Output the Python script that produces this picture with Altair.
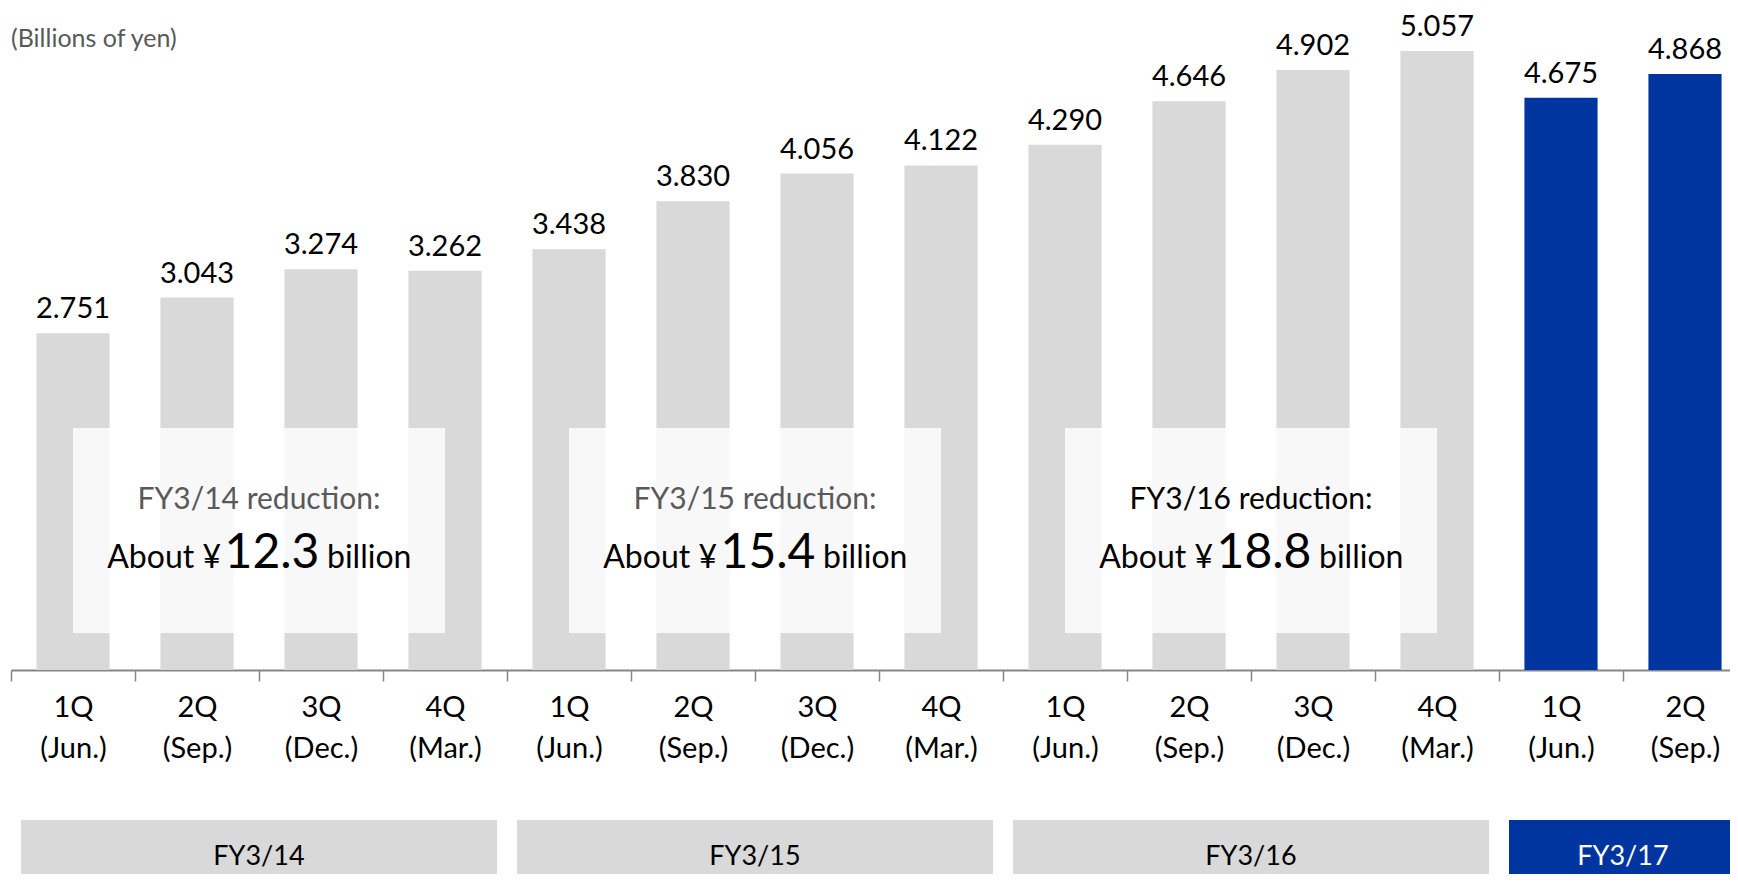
import altair as alt
import pandas as pd

# ---------------- data ----------------
fiscal_years = ["FY3/14"] * 4 + ["FY3/15"] * 4 + ["FY3/16"] * 4 + ["FY3/17"] * 2
quarters = ["1Q", "2Q", "3Q", "4Q"] * 3 + ["1Q", "2Q"]
months = ["(Jun.)", "(Sep.)", "(Dec.)", "(Mar.)"] * 3 + ["(Jun.)", "(Sep.)"]
values = [2.751, 3.043, 3.274, 3.262, 3.438, 3.830, 4.056, 4.122,
          4.290, 4.646, 4.902, 5.057, 4.675, 4.868]

fy_names = ["FY3/14", "FY3/15", "FY3/16", "FY3/17"]
fy_start = [0, 4, 8, 12]
fy_count = [4, 4, 4, 2]

red_fy = ["FY3/14", "FY3/15", "FY3/16"]
red_amount = ["12.3", "15.4", "18.8"]
red_start = [0, 4, 8]
red_count = [4, 4, 4]

unit_label = "(Billions of yen)"

# ---------------- styling ----------------
FONT = "Lato"
GRAY_BAR = "#d9d9d9"
BLUE = "#0035a0"
TEXT_GRAY = "#595959"
X_RANGE = [3, 1739]

keys = [f"{f}|{q}|{m}" for f, q, m in zip(fiscal_years, quarters, months)]
bars_df = pd.DataFrame({"key": keys, "fy": fiscal_years, "value": values})
fy_df = pd.DataFrame({"fy": fy_names, "start": fy_start, "count": fy_count})
red_df = pd.DataFrame({"fy": red_fy, "amount": red_amount,
                       "start": red_start, "count": red_count})
title_df = pd.DataFrame({"t": [unit_label]})

x_axis = alt.Axis(
    title=None, domainColor="#868686", domainWidth=2,
    tickColor="#868686", tickWidth=1.5, tickSize=11, tickBand="extent",
    labelExpr="[split(datum.value,'|')[1], split(datum.value,'|')[2]]",
    labelFont=FONT, labelFontSize=29, labelColor="#000000",
    labelLineHeight=41, labelPadding=12, labelAngle=0, labelBaseline="top",
)

band_scale = alt.Scale(domain=keys, range=X_RANGE, paddingInner=0, paddingOuter=0)
y_scale = alt.Scale(domain=[0, 5.408])

bar_color = alt.condition(alt.datum.fy == "FY3/17", alt.value(BLUE), alt.value(GRAY_BAR))

bars = alt.Chart(bars_df).mark_bar(width=alt.RelativeBandSize(0.59)).encode(
    x=alt.X("key:N", sort=keys, scale=band_scale, axis=x_axis),
    y=alt.Y("value:Q", scale=y_scale, axis=None),
    color=bar_color,
)

value_text = alt.Chart(bars_df).mark_text(
    baseline="alphabetic", dy=-15, font=FONT, fontSize=29, color="#000000"
).encode(
    x=alt.X("key:N", sort=keys, scale=band_scale, axis=None),
    y=alt.Y("value:Q", scale=y_scale, axis=None),
    text=alt.Text("value:Q", format=".3f"),
)

qx = lambda f: alt.X(f, type="quantitative",
                     scale=alt.Scale(domain=[0, 14], range=X_RANGE), axis=None)
qx2 = lambda f: alt.X2(f)

# reduction boxes
red_base = alt.Chart(red_df).transform_calculate(
    bx="datum.start + 0.5",
    bx2="datum.start + datum.count - 0.5",
    cx="datum.start + datum.count / 2",
    line1="datum.fy + ' reduction:'",
)

red_box = red_base.mark_rect(color="white", opacity=0.8).encode(
    x=qx("bx"), x2=qx2("bx2"), y=alt.value(420), y2=alt.value(625)
)
red_line1 = red_base.mark_text(
    font=FONT, fontSize=30, baseline="alphabetic", align="center"
).encode(
    x=qx("cx"), y=alt.value(501), text="line1:N",
    color=alt.condition(alt.datum.fy == "FY3/16", alt.value("#000000"), alt.value(TEXT_GRAY)),
)
red_about = red_base.mark_text(
    font=FONT, fontSize=32, baseline="alphabetic", align="right", dx=-38, color="#000000"
).encode(x=qx("cx"), y=alt.value(560), text=alt.value("About ¥"))
red_num = red_base.mark_text(
    font=FONT, fontSize=48, baseline="alphabetic", align="center", dx=13, color="#000000"
).encode(x=qx("cx"), y=alt.value(560), text="amount:N")
red_bill = red_base.mark_text(
    font=FONT, fontSize=32, baseline="alphabetic", align="left", dx=68, color="#000000"
).encode(x=qx("cx"), y=alt.value(560), text=alt.value("billion"))

# fiscal-year boxes
fy_base = alt.Chart(fy_df).transform_calculate(
    ex="datum.start + datum.count",
    cx="datum.start + datum.count / 2",
)
fy_box = fy_base.mark_rect(xOffset=10, x2Offset=-10).encode(
    x=qx("start"), x2=qx2("ex"), y=alt.value(812), y2=alt.value(880),
    color=alt.condition(alt.datum.fy == "FY3/17", alt.value(BLUE), alt.value(GRAY_BAR)),
)
fy_text = fy_base.mark_text(font=FONT, fontSize=27, baseline="middle").encode(
    x=qx("cx"), y=alt.value(849), text="fy:N",
    color=alt.condition(alt.datum.fy == "FY3/17", alt.value("#ffffff"), alt.value("#000000")),
)

title = alt.Chart(title_df).mark_text(
    font=FONT, fontSize=25, align="left", baseline="middle", color=TEXT_GRAY
).encode(x=alt.value(3), y=alt.value(31), text="t:N")

chart = alt.layer(
    bars, value_text, red_box, red_line1, red_about, red_num, red_bill,
    fy_box, fy_text, title
).resolve_scale(x="independent").properties(
    width=1722, height=662,
    autosize=alt.AutoSizeParams(type="none"),
    padding={"left": 0, "top": 0, "right": 0, "bottom": 204},
).configure_view(stroke=None)

chart.save("out.html", embed_options={"renderer": "svg", "actions": False})
